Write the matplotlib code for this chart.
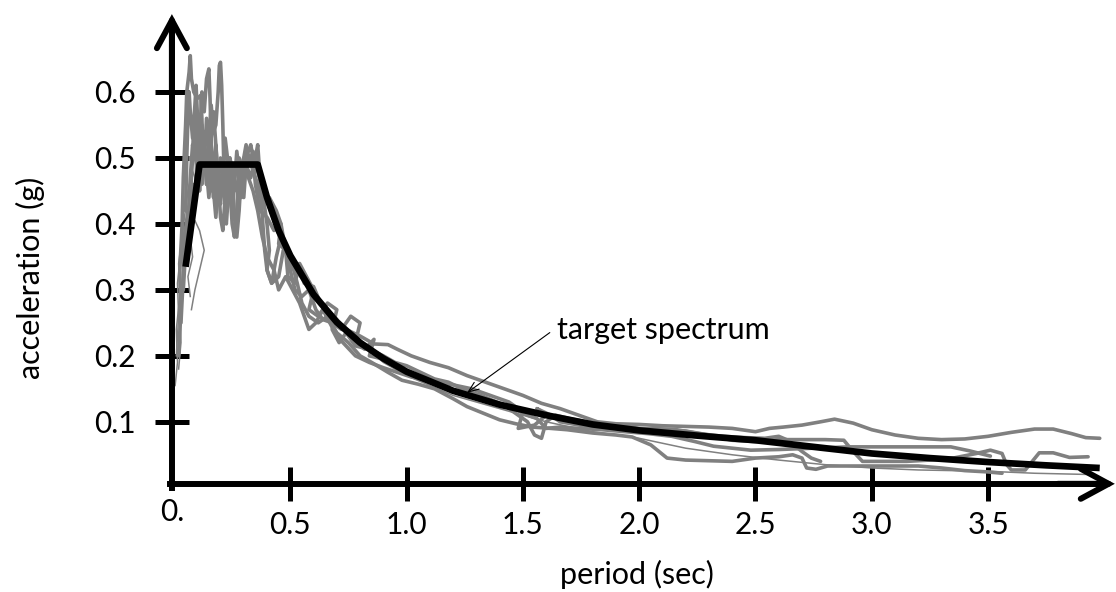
import matplotlib
matplotlib.use("Agg")
import matplotlib.pyplot as plt

plt.rcParams['font.family'] = ['Lato', 'DejaVu Sans']

# target (design) spectrum
target_T = [0.05, 0.11, 0.36, 0.40, 0.45, 0.50, 0.60, 0.70, 0.80, 0.90, 1.00, 1.20,
            1.40, 1.60, 1.80, 2.00, 2.25, 2.50, 2.75, 3.00, 3.25, 3.50, 3.75, 3.98]
target_a = [0.335, 0.49, 0.49, 0.44, 0.39, 0.352, 0.293, 0.251, 0.22, 0.196, 0.176, 0.147,
            0.126, 0.11, 0.096, 0.087, 0.079, 0.072, 0.062, 0.052, 0.045, 0.039, 0.034, 0.030]

# scaled ground motion records, (period, acceleration)
rec1 = [(0.02, 0.20), (0.03, 0.27), (0.025, 0.33), (0.035, 0.40), (0.04, 0.47), (0.05, 0.55),
        (0.055, 0.60), (0.065, 0.63), (0.07, 0.655), (0.075, 0.62), (0.085, 0.60), (0.10, 0.59),
        (0.115, 0.595), (0.12, 0.56), (0.125, 0.50), (0.13, 0.54), (0.14, 0.46), (0.15, 0.52),
        (0.16, 0.45), (0.17, 0.50), (0.18, 0.43), (0.19, 0.48), (0.20, 0.44), (0.21, 0.49),
        (0.22, 0.46), (0.24, 0.50), (0.26, 0.47), (0.28, 0.50), (0.30, 0.48), (0.32, 0.505),
        (0.34, 0.48), (0.36, 0.46), (0.38, 0.43), (0.41, 0.44), (0.44, 0.42), (0.46, 0.40),
        (0.45, 0.37), (0.48, 0.36), (0.50, 0.33), (0.53, 0.34), (0.56, 0.31), (0.60, 0.305),
        (0.63, 0.28), (0.66, 0.27), (0.70, 0.255), (0.74, 0.24), (0.80, 0.23), (0.86, 0.218),
        (0.92, 0.217), (0.96, 0.21), (1.02, 0.20), (1.10, 0.19), (1.18, 0.182), (1.26, 0.17),
        (1.34, 0.16), (1.42, 0.15), (1.50, 0.14), (1.58, 0.128), (1.66, 0.12), (1.74, 0.11),
        (1.82, 0.10), (1.90, 0.097), (2.00, 0.096), (2.10, 0.094), (2.20, 0.093), (2.30, 0.092),
        (2.40, 0.09), (2.50, 0.085), (2.56, 0.09), (2.62, 0.092), (2.70, 0.095), (2.78, 0.10),
        (2.84, 0.104), (2.92, 0.098), (3.00, 0.088), (3.10, 0.08), (3.20, 0.075), (3.30, 0.073),
        (3.40, 0.074), (3.50, 0.078), (3.60, 0.084), (3.70, 0.089), (3.78, 0.089), (3.86, 0.082),
        (3.92, 0.076), (3.98, 0.075)]

rec2 = [(0.03, 0.25), (0.04, 0.32), (0.045, 0.38), (0.06, 0.42), (0.07, 0.40), (0.08, 0.46),
        (0.09, 0.44), (0.10, 0.50), (0.11, 0.47), (0.12, 0.53), (0.13, 0.49), (0.14, 0.56),
        (0.15, 0.52), (0.16, 0.58), (0.17, 0.54), (0.18, 0.55), (0.19, 0.60), (0.195, 0.64),
        (0.20, 0.645), (0.205, 0.61), (0.21, 0.55), (0.215, 0.48), (0.22, 0.42), (0.225, 0.40),
        (0.235, 0.45), (0.24, 0.50), (0.25, 0.47), (0.26, 0.41), (0.27, 0.38), (0.28, 0.42),
        (0.29, 0.48), (0.30, 0.44), (0.31, 0.49), (0.33, 0.47), (0.35, 0.50), (0.36, 0.52),
        (0.37, 0.47), (0.38, 0.41), (0.39, 0.36), (0.40, 0.33), (0.42, 0.31), (0.44, 0.35),
        (0.46, 0.38), (0.48, 0.37), (0.50, 0.33), (0.52, 0.30), (0.55, 0.29), (0.58, 0.30),
        (0.61, 0.27), (0.64, 0.255), (0.68, 0.25), (0.72, 0.24), (0.76, 0.26), (0.80, 0.25),
        (0.78, 0.22), (0.82, 0.21), (0.86, 0.225), (0.84, 0.20), (0.90, 0.195), (0.96, 0.18),
        (1.02, 0.17), (1.10, 0.16), (1.18, 0.15), (1.26, 0.145), (1.34, 0.135), (1.42, 0.125),
        (1.48, 0.11), (1.52, 0.10), (1.55, 0.08), (1.58, 0.075), (1.60, 0.10), (1.64, 0.11),
        (1.70, 0.105), (1.80, 0.098), (1.90, 0.095), (2.00, 0.09), (2.10, 0.088), (2.20, 0.086),
        (2.30, 0.08), (2.40, 0.072), (2.50, 0.07), (2.60, 0.073), (2.70, 0.073), (2.80, 0.073),
        (2.88, 0.072), (2.92, 0.055), (2.96, 0.04), (3.05, 0.04), (3.15, 0.04), (3.25, 0.042),
        (3.35, 0.045), (3.45, 0.052), (3.51, 0.057), (3.56, 0.052), (3.58, 0.035), (3.60, 0.027),
        (3.66, 0.027), (3.72, 0.053), (3.78, 0.053), (3.85, 0.046), (3.93, 0.047)]

rec3 = [(0.04, 0.30), (0.05, 0.36), (0.06, 0.40), (0.07, 0.47), (0.08, 0.52), (0.09, 0.50),
        (0.10, 0.56), (0.11, 0.53), (0.12, 0.60), (0.13, 0.57), (0.14, 0.62), (0.15, 0.635),
        (0.155, 0.59), (0.16, 0.53), (0.165, 0.47), (0.17, 0.44), (0.175, 0.50), (0.18, 0.52),
        (0.19, 0.47), (0.20, 0.41), (0.21, 0.39), (0.22, 0.44), (0.23, 0.50), (0.24, 0.46),
        (0.25, 0.40), (0.26, 0.38), (0.27, 0.42), (0.28, 0.49), (0.29, 0.44), (0.30, 0.50),
        (0.31, 0.52), (0.32, 0.49), (0.34, 0.51), (0.36, 0.48), (0.38, 0.45), (0.40, 0.40),
        (0.41, 0.36), (0.40, 0.33), (0.42, 0.31), (0.45, 0.32), (0.47, 0.36), (0.50, 0.35),
        (0.53, 0.31), (0.55, 0.28), (0.58, 0.26), (0.62, 0.25), (0.66, 0.26), (0.70, 0.235),
        (0.75, 0.22), (0.80, 0.20), (0.85, 0.19), (0.92, 0.175), (0.98, 0.163), (1.05, 0.157),
        (1.12, 0.15), (1.20, 0.135), (1.26, 0.123), (1.33, 0.113), (1.40, 0.103), (1.47, 0.097),
        (1.54, 0.092), (1.62, 0.09), (1.69, 0.088), (1.80, 0.083), (1.90, 0.08), (1.97, 0.077),
        (2.05, 0.065), (2.12, 0.045), (2.20, 0.042), (2.30, 0.041), (2.40, 0.04), (2.50, 0.045),
        (2.60, 0.047), (2.66, 0.05), (2.70, 0.045), (2.72, 0.03), (2.76, 0.028), (2.81, 0.033),
        (2.95, 0.033), (3.10, 0.033), (3.20, 0.033), (3.30, 0.03), (3.40, 0.026), (3.50, 0.024),
        (3.56, 0.022)]

rec4 = [(0.06, 0.38), (0.07, 0.44), (0.08, 0.50), (0.085, 0.56), (0.09, 0.52), (0.10, 0.47),
        (0.11, 0.50), (0.12, 0.55), (0.13, 0.51), (0.14, 0.46), (0.15, 0.49), (0.16, 0.53),
        (0.17, 0.57), (0.18, 0.52), (0.19, 0.45), (0.20, 0.43), (0.21, 0.47), (0.22, 0.53),
        (0.23, 0.50), (0.24, 0.44), (0.25, 0.42), (0.26, 0.46), (0.27, 0.51), (0.28, 0.48),
        (0.29, 0.45), (0.30, 0.49), (0.32, 0.51), (0.33, 0.52), (0.34, 0.50), (0.35, 0.46),
        (0.37, 0.42), (0.40, 0.41), (0.43, 0.39), (0.46, 0.40), (0.48, 0.36), (0.49, 0.32),
        (0.52, 0.31), (0.54, 0.34), (0.57, 0.32), (0.60, 0.30), (0.58, 0.27), (0.62, 0.26),
        (0.66, 0.28), (0.70, 0.27), (0.68, 0.24), (0.71, 0.22), (0.74, 0.235), (0.78, 0.215),
        (0.84, 0.21), (0.90, 0.20), (0.95, 0.19), (1.00, 0.185), (1.06, 0.175), (1.12, 0.165),
        (1.18, 0.16), (1.25, 0.148), (1.32, 0.14), (1.40, 0.128), (1.46, 0.12), (1.52, 0.11),
        (1.56, 0.105), (1.60, 0.09), (1.66, 0.092), (1.74, 0.09), (1.84, 0.088), (1.94, 0.085),
        (2.04, 0.082), (2.14, 0.078), (2.24, 0.07), (2.32, 0.063), (2.40, 0.06), (2.48, 0.057),
        (2.60, 0.058), (2.75, 0.06), (2.90, 0.062), (3.05, 0.062), (3.20, 0.062), (3.34, 0.062),
        (3.42, 0.056), (3.51, 0.048)]

rec5 = [(0.05, 0.42), (0.055, 0.50), (0.06, 0.56), (0.065, 0.60), (0.07, 0.57), (0.08, 0.53),
        (0.09, 0.58), (0.095, 0.61), (0.10, 0.57), (0.105, 0.50), (0.11, 0.45), (0.115, 0.49),
        (0.12, 0.46), (0.13, 0.51), (0.14, 0.48), (0.15, 0.44), (0.16, 0.48), (0.17, 0.45),
        (0.18, 0.41), (0.19, 0.46), (0.20, 0.50), (0.22, 0.47), (0.24, 0.49), (0.26, 0.45),
        (0.28, 0.47), (0.30, 0.50), (0.32, 0.47), (0.34, 0.45), (0.36, 0.42), (0.38, 0.38),
        (0.40, 0.35), (0.43, 0.33), (0.45, 0.30), (0.48, 0.32), (0.51, 0.30), (0.54, 0.28),
        (0.56, 0.26), (0.58, 0.24), (0.61, 0.25), (0.64, 0.27), (0.67, 0.25), (0.70, 0.23),
        (0.74, 0.215), (0.78, 0.20), (0.84, 0.19), (0.90, 0.182), (0.96, 0.175), (1.02, 0.168),
        (1.10, 0.162), (1.20, 0.156), (1.28, 0.15), (1.36, 0.14), (1.44, 0.13), (1.50, 0.115),
        (1.48, 0.09), (1.55, 0.095), (1.60, 0.11), (1.56, 0.12), (1.62, 0.11), (1.66, 0.10),
        (1.76, 0.094), (1.86, 0.09), (1.96, 0.088), (2.06, 0.09), (2.16, 0.088), (2.26, 0.082),
        (2.36, 0.078), (2.46, 0.076), (2.54, 0.075), (2.60, 0.078), (2.64, 0.072), (2.70, 0.055),
        (2.74, 0.045), (2.78, 0.04)]

rec6 = [(0.005, 0.155), (0.015, 0.19), (0.01, 0.24), (0.025, 0.29), (0.02, 0.34), (0.035, 0.38),
        (0.06, 0.40), (0.09, 0.405), (0.11, 0.39), (0.13, 0.36), (0.11, 0.33), (0.09, 0.30),
        (0.075, 0.27)]

rec7 = [(0.01, 0.20), (0.02, 0.26), (0.015, 0.31), (0.03, 0.36), (0.045, 0.41), (0.06, 0.45),
        (0.08, 0.48), (0.10, 0.46), (0.12, 0.50), (0.15, 0.47), (0.20, 0.49), (0.25, 0.48),
        (0.30, 0.49), (0.35, 0.47), (0.40, 0.43), (0.45, 0.38), (0.50, 0.34), (0.60, 0.29),
        (0.70, 0.25), (0.80, 0.22), (0.90, 0.19), (1.00, 0.17), (1.20, 0.14), (1.40, 0.12),
        (1.60, 0.10), (1.80, 0.085), (2.00, 0.075), (2.20, 0.06), (2.40, 0.05), (2.60, 0.042),
        (2.80, 0.035), (3.00, 0.03), (3.20, 0.027), (3.50, 0.025), (3.70, 0.022), (3.95, 0.02)]

rec8 = [(0.02, 0.18), (0.03, 0.22), (0.025, 0.27), (0.04, 0.31), (0.035, 0.36), (0.05, 0.39),
        (0.07, 0.38), (0.08, 0.35), (0.06, 0.32), (0.07, 0.29)]

thick_records = [rec1, rec2, rec3, rec4, rec5]
thin_records = [rec6, rec7, rec8]

x_ticks = [0.5, 1.0, 1.5, 2.0, 2.5, 3.0, 3.5]
x_labels = ['0.5', '1.0', '1.5', '2.0', '2.5', '3.0', '3.5']
y_ticks = [0.1, 0.2, 0.3, 0.4, 0.5, 0.6]
y_labels = ['0.1', '0.2', '0.3', '0.4', '0.5', '0.6']

gray = '#808080'

fig = plt.figure(figsize=(11.16, 5.92), dpi=100)
ax = fig.add_axes([0, 0, 1, 1])
ax.set_xlim(-0.748, 4.05)
ax.set_ylim(-0.158, 0.7394)

for rec in thick_records:
    ax.plot([p[0] for p in rec], [p[1] for p in rec], color=gray, lw=2.6,
            solid_joinstyle='round', solid_capstyle='round')
for rec in thin_records:
    ax.plot([p[0] for p in rec], [p[1] for p in rec], color=gray, lw=1.1)

ax.plot(target_T, target_a, color='black', lw=4.8, solid_capstyle='butt')

# axes drawn as spines with arrow heads
for side in ['top', 'right']:
    ax.spines[side].set_visible(False)
ax.spines['left'].set_position(('data', -0.009))
ax.spines['bottom'].set_position(('data', 0.006))
ax.spines['left'].set_bounds(0.0, 0.70)
ax.spines['bottom'].set_bounds(-0.018, 4.0)
ax.spines['left'].set_linewidth(4.3)
ax.spines['bottom'].set_linewidth(4.3)
ax.spines['left'].set_capstyle('projecting')

arrow = dict(arrowstyle='->,head_length=0.5,head_width=0.27', lw=4.3, color='black',
             shrinkA=0, shrinkB=0, mutation_scale=40, capstyle='round', joinstyle='miter')
ax.annotate('', xy=(-0.009, 0.718), xytext=(-0.009, 0.6), arrowprops=arrow)
ax.annotate('', xy=(4.045, 0.006), xytext=(3.8, 0.006), arrowprops=arrow)

ax.set_xticks(x_ticks, x_labels)
ax.set_yticks(y_ticks, y_labels)
ax.tick_params(axis='both', direction='inout', length=24.5, width=3.6, labelsize=21.5, colors='black')
ax.tick_params(axis='y', pad=14)
ax.tick_params(axis='x', pad=7)

ax.text(-0.009, -0.036, '0.', fontsize=21.5, ha='center', va='center')
ax.text(-0.615, 0.318, 'acceleration (g)', fontsize=22, rotation=90, ha='center', va='center')
ax.text(1.99, -0.132, 'period (sec)', fontsize=22, ha='center', va='center')

ax.annotate('target spectrum', xy=(1.26, 0.144), xytext=(1.647, 0.239), fontsize=22,
            va='center', ha='left',
            arrowprops=dict(arrowstyle='->,head_length=0.5,head_width=0.2', lw=0.8,
                            color='black', shrinkA=4, shrinkB=0, mutation_scale=15,
                            relpos=(0, 0.6)))

fig.savefig('out.png', dpi=100)
